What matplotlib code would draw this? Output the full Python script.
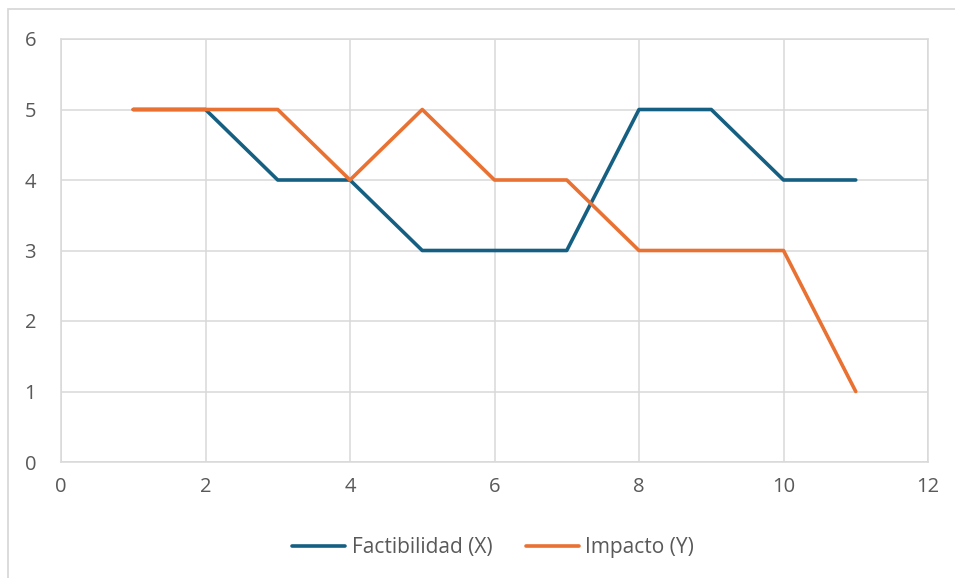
import matplotlib.pyplot as plt
from matplotlib.patches import Rectangle

plt.rcParams["font.family"] = ["Open Sans", "DejaVu Sans"]

x = [1, 2, 3, 4, 5, 6, 7, 8, 9, 10, 11]
factibilidad = [5, 5, 4, 4, 3, 3, 3, 5, 5, 4, 4]
impacto = [5, 5, 5, 4, 5, 4, 4, 3, 3, 3, 1]

W, H = 955, 578
fig = plt.figure(figsize=(W / 100, H / 100), dpi=100)
ax = fig.add_axes([61 / W, (H - 462) / H, (928 - 61) / W, (462 - 39) / H])

# marco exterior del grafico
fig.add_artist(Rectangle((8 / W, -0.1), 1.2, (H - 9) / H + 0.1,
                         transform=fig.transFigure, fill=False,
                         edgecolor="#d9d9d9", linewidth=1.3))

ax.plot(x, factibilidad, color="#156082", linewidth=2.6, label="Factibilidad (X)",
        solid_joinstyle="round", solid_capstyle="round")
ax.plot(x, impacto, color="#e97132", linewidth=2.6, label="Impacto (Y)",
        solid_joinstyle="round", solid_capstyle="round")

ax.set_xlim(0, 12)
ax.set_ylim(0, 6)
ax.set_xticks(range(0, 13, 2))
ax.set_yticks(range(0, 7))
ax.grid(True, color="#d9d9d9", linewidth=1.1)
ax.set_axisbelow(True)
for s in ax.spines.values():
    s.set_color("#d9d9d9")
    s.set_linewidth(1.1)
ax.tick_params(length=0, labelsize=14.5, labelcolor="#595959")
ax.tick_params(axis="x", pad=11)
ax.tick_params(axis="y", pad=18)

ax.legend(loc="center", bbox_to_anchor=(493 / W, (H - 548) / H), bbox_transform=fig.transFigure,
          ncol=2, frameon=False, fontsize=15, labelcolor="#595959",
          handlelength=2.55, handletextpad=0.3, columnspacing=1.6)

fig.savefig("out.png", dpi=100)
